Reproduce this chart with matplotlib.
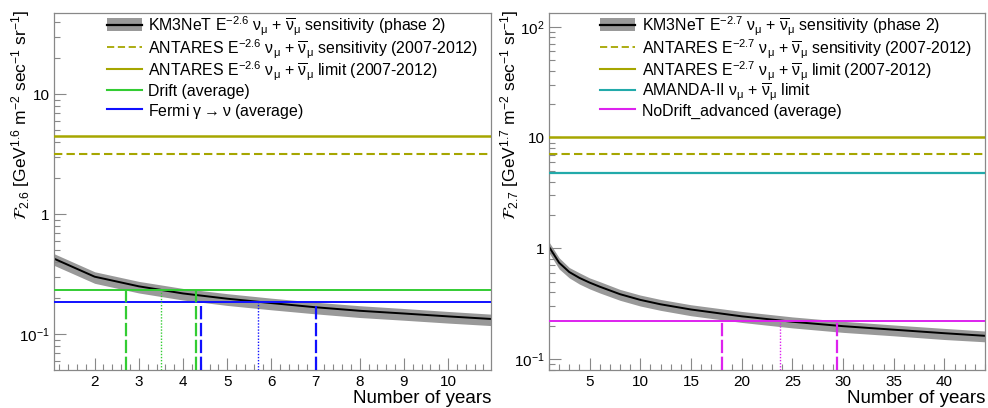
import numpy as np
import matplotlib
matplotlib.use("Agg")
import matplotlib.pyplot as plt
from matplotlib.patches import Rectangle
from matplotlib.ticker import LogLocator, MultipleLocator, NullFormatter, FuncFormatter

plt.rcParams['font.family'] = ['Liberation Sans', 'DejaVu Sans']
plt.rcParams['mathtext.fontset'] = 'custom'
plt.rcParams['mathtext.rm'] = 'Liberation Sans'
plt.rcParams['mathtext.it'] = 'Liberation Sans:italic'
plt.rcParams['mathtext.bf'] = 'Liberation Sans:bold'
plt.rcParams['mathtext.default'] = 'regular'

# ---------------- E^-2.6 spectrum (left) ----------------
years_26 = [1, 2, 3, 4, 5, 6, 7, 8, 9, 10, 11]
sens_26 = [0.440, 0.302, 0.251, 0.219, 0.198, 0.182, 0.168, 0.157, 0.149, 0.141, 0.134]
sens_26_hi = [0.484, 0.332, 0.276, 0.241, 0.218, 0.200, 0.185, 0.173, 0.164, 0.155, 0.147]
sens_26_lo = [0.387, 0.266, 0.221, 0.193, 0.174, 0.160, 0.148, 0.138, 0.131, 0.124, 0.118]
antares_sens_26 = 3.16
antares_lim_26 = 4.52
drift_level = 0.234
drift_years = [2.7, 3.5, 4.3]
fermi_level = 0.186
fermi_years = [4.4, 5.7, 7.0]

# ---------------- E^-2.7 spectrum (right) ----------------
years_27 = [1, 2, 3, 4, 5, 6, 8, 10, 12, 15, 20, 25, 30, 35, 40, 44]
sens_27 = [1.03, 0.74, 0.61, 0.54, 0.49, 0.45, 0.385, 0.342, 0.312, 0.280, 0.243, 0.217, 0.198, 0.184, 0.171, 0.162]
sens_27_hi = [1.14, 0.82, 0.67, 0.60, 0.54, 0.50, 0.425, 0.378, 0.345, 0.309, 0.269, 0.240, 0.219, 0.203, 0.189, 0.179]
sens_27_lo = [0.91, 0.65, 0.54, 0.475, 0.43, 0.395, 0.339, 0.301, 0.275, 0.246, 0.214, 0.191, 0.174, 0.162, 0.150, 0.143]
antares_sens_27 = 7.03
antares_lim_27 = 10.0
amanda_lim_27 = 4.74
nodrift_level = 0.221
nodrift_years = [18.1, 23.8, 29.4]

OLIVE = '#a6a600'
GREEN = '#33cc33'
BLUE = '#1010ff'
TEAL = '#22aaaa'
MAGENTA = '#dd22ee'
BAND = '#999999'
FRAME = '#888888'

AX_H_PX = 357.0  # axes height in pixels, used to place legend rows

fig = plt.figure(figsize=(9.88, 4.08), dpi=100)
ax1 = fig.add_axes([54 / 988, 38 / 408, 437 / 988, AX_H_PX / 408])
ax2 = fig.add_axes([549 / 988, 38 / 408, 436 / 988, AX_H_PX / 408])

log_labels = {0.1: r'$10^{-1}$', 1.0: '1', 10.0: '10', 100.0: r'$10^{2}$'}


def fmt_log(v, pos):
    for k, s in log_labels.items():
        if abs(v - k) < 1e-9 * max(k, 1):
            return s
    return ''


def style_axes(ax, xlim, ylim, xmajor, xminor):
    ax.set_yscale('log')
    ax.set_xlim(*xlim)
    ax.set_ylim(*ylim)
    ax.xaxis.set_major_locator(MultipleLocator(xmajor))
    ax.xaxis.set_minor_locator(MultipleLocator(xminor))
    ax.yaxis.set_major_locator(LogLocator(base=10, numticks=10))
    ax.yaxis.set_minor_locator(LogLocator(base=10, subs=np.arange(2, 10), numticks=20))
    ax.yaxis.set_major_formatter(FuncFormatter(fmt_log))
    ax.yaxis.set_minor_formatter(NullFormatter())
    ax.tick_params(which='both', direction='in', top=False, right=False,
                   color=FRAME, width=0.8, labelsize=11)
    ax.tick_params(which='major', length=8.5)
    ax.tick_params(which='minor', length=4.5)
    ax.tick_params(axis='x', pad=3.5)
    ax.tick_params(axis='y', pad=3)
    for sp in ax.spines.values():
        sp.set_color(FRAME)
        sp.set_linewidth(0.9)
    ax.set_xlabel('Number of years', fontsize=13.5, loc='right')
    ax.xaxis.set_label_coords(1.0, -0.056)


def draw_sensitivity(ax, years, val, lo, hi):
    ax.fill_between(years, lo, hi, color=BAND, lw=0, zorder=1)
    ax.plot(years, val, color='black', lw=1.4, zorder=2)


def draw_crossings(ax, xs, level, color, ybot):
    styles = [(0, (6, 1.6)), (0, (1, 1.2)), (0, (6, 1.6))]
    widths = [1.6, 1.0, 1.6]
    for x, ls, w in zip(xs, styles, widths):
        ax.vlines(x, ybot, level, colors=color, linestyles=[ls], lw=w, zorder=4)


# vertical position (pixels below the top of the axes) of each legend row
ROW_PX = [11.5, 34.0, 56.0, 76.5, 96.0]


def legend_rows(ax, entries, x0, x1, xt):
    """Borderless ROOT-style legend: one row per (kind, color, text)."""
    tr = ax.transAxes
    for row_px, (kind, color, text) in zip(ROW_PX, entries):
        y = 1 - row_px / AX_H_PX
        if kind == 'band':
            ax.add_patch(Rectangle((x0, y - 6.6 / AX_H_PX), x1 - x0, 13.2 / AX_H_PX, transform=tr,
                                   facecolor=BAND, edgecolor='none', clip_on=False, zorder=5))
            ax.plot([x0, x1], [y, y], transform=tr, color='black', lw=1.6,
                    clip_on=False, zorder=6)
        elif kind == 'dashed':
            ax.plot([x0, x1], [y, y], transform=tr, color=color, lw=1.3,
                    ls=(0, (4, 2)), clip_on=False, zorder=6)
        else:
            ax.plot([x0, x1], [y, y], transform=tr, color=color, lw=1.5,
                    clip_on=False, zorder=6)
        ax.text(xt, y - 6.8 / AX_H_PX, text, transform=tr, ha='left', va='baseline',
                fontsize=11.4, zorder=6)


# ---- left panel ----
style_axes(ax1, (1.08, 10.97), (0.0504, 47.6), 1, 0.2)
draw_sensitivity(ax1, years_26, sens_26, sens_26_lo, sens_26_hi)
ax1.axhline(antares_sens_26, color=OLIVE, lw=1.5, ls=(0, (4, 2)), zorder=3)
ax1.axhline(antares_lim_26, color=OLIVE, lw=1.8, zorder=3)
ax1.axhline(drift_level, color=GREEN, lw=1.4, zorder=3)
ax1.axhline(fermi_level, color=BLUE, lw=1.4, zorder=3)
draw_crossings(ax1, drift_years, drift_level, GREEN, 0.0504)
draw_crossings(ax1, fermi_years, fermi_level, BLUE, 0.0504)

legend_rows(ax1, [
    ('band', 'black', r'KM3NeT E$^{-2.6}$ $\nu_{\mu}$ + $\overline{\nu}_{\mu}$ sensitivity (phase 2)'),
    ('dashed', OLIVE, r'ANTARES E$^{-2.6}$ $\nu_{\mu}$ + $\overline{\nu}_{\mu}$ sensitivity (2007-2012)'),
    ('solid', OLIVE, r'ANTARES E$^{-2.6}$ $\nu_{\mu}$ + $\overline{\nu}_{\mu}$ limit (2007-2012)'),
    ('solid', GREEN, 'Drift (average)'),
    ('solid', BLUE, r'Fermi $\gamma \rightarrow \nu$ (average)'),
], 0.1213, 0.2014, 0.2151)

# ---- right panel ----
style_axes(ax2, (1.0, 44.0), (0.0796, 133.0), 5, 1)
draw_sensitivity(ax2, years_27, sens_27, sens_27_lo, sens_27_hi)
ax2.axhline(antares_sens_27, color=OLIVE, lw=1.5, ls=(0, (4, 2)), zorder=3)
ax2.axhline(antares_lim_27, color=OLIVE, lw=1.8, zorder=3)
ax2.axhline(amanda_lim_27, color=TEAL, lw=1.6, zorder=3)
ax2.axhline(nodrift_level, color=MAGENTA, lw=1.4, zorder=3)
draw_crossings(ax2, nodrift_years, nodrift_level, MAGENTA, 0.0796)

legend_rows(ax2, [
    ('band', 'black', r'KM3NeT E$^{-2.7}$ $\nu_{\mu}$ + $\overline{\nu}_{\mu}$ sensitivity (phase 2)'),
    ('dashed', OLIVE, r'ANTARES E$^{-2.7}$ $\nu_{\mu}$ + $\overline{\nu}_{\mu}$ sensitivity (2007-2012)'),
    ('solid', OLIVE, r'ANTARES E$^{-2.7}$ $\nu_{\mu}$ + $\overline{\nu}_{\mu}$ limit (2007-2012)'),
    ('solid', TEAL, r'AMANDA-II $\nu_{\mu}$ + $\overline{\nu}_{\mu}$ limit'),
    ('solid', MAGENTA, 'NoDrift_advanced (average)'),
], 0.118, 0.198, 0.2135)

# ---- y-axis titles ----
fig.text(21 / 988, 1 - 10 / 408,
         r'$\mathcal{F}_{2.6}$ [GeV$^{1.6}$ m$^{-2}$ sec$^{-1}$ sr$^{-1}$]',
         rotation=90, ha='center', va='top', fontsize=12.5, math_fontfamily='stixsans')
fig.text(510 / 988, 1 - 10 / 408,
         r'$\mathcal{F}_{2.7}$ [GeV$^{1.7}$ m$^{-2}$ sec$^{-1}$ sr$^{-1}$]',
         rotation=90, ha='center', va='top', fontsize=12.5, math_fontfamily='stixsans')

fig.savefig('out.png', dpi=100)
